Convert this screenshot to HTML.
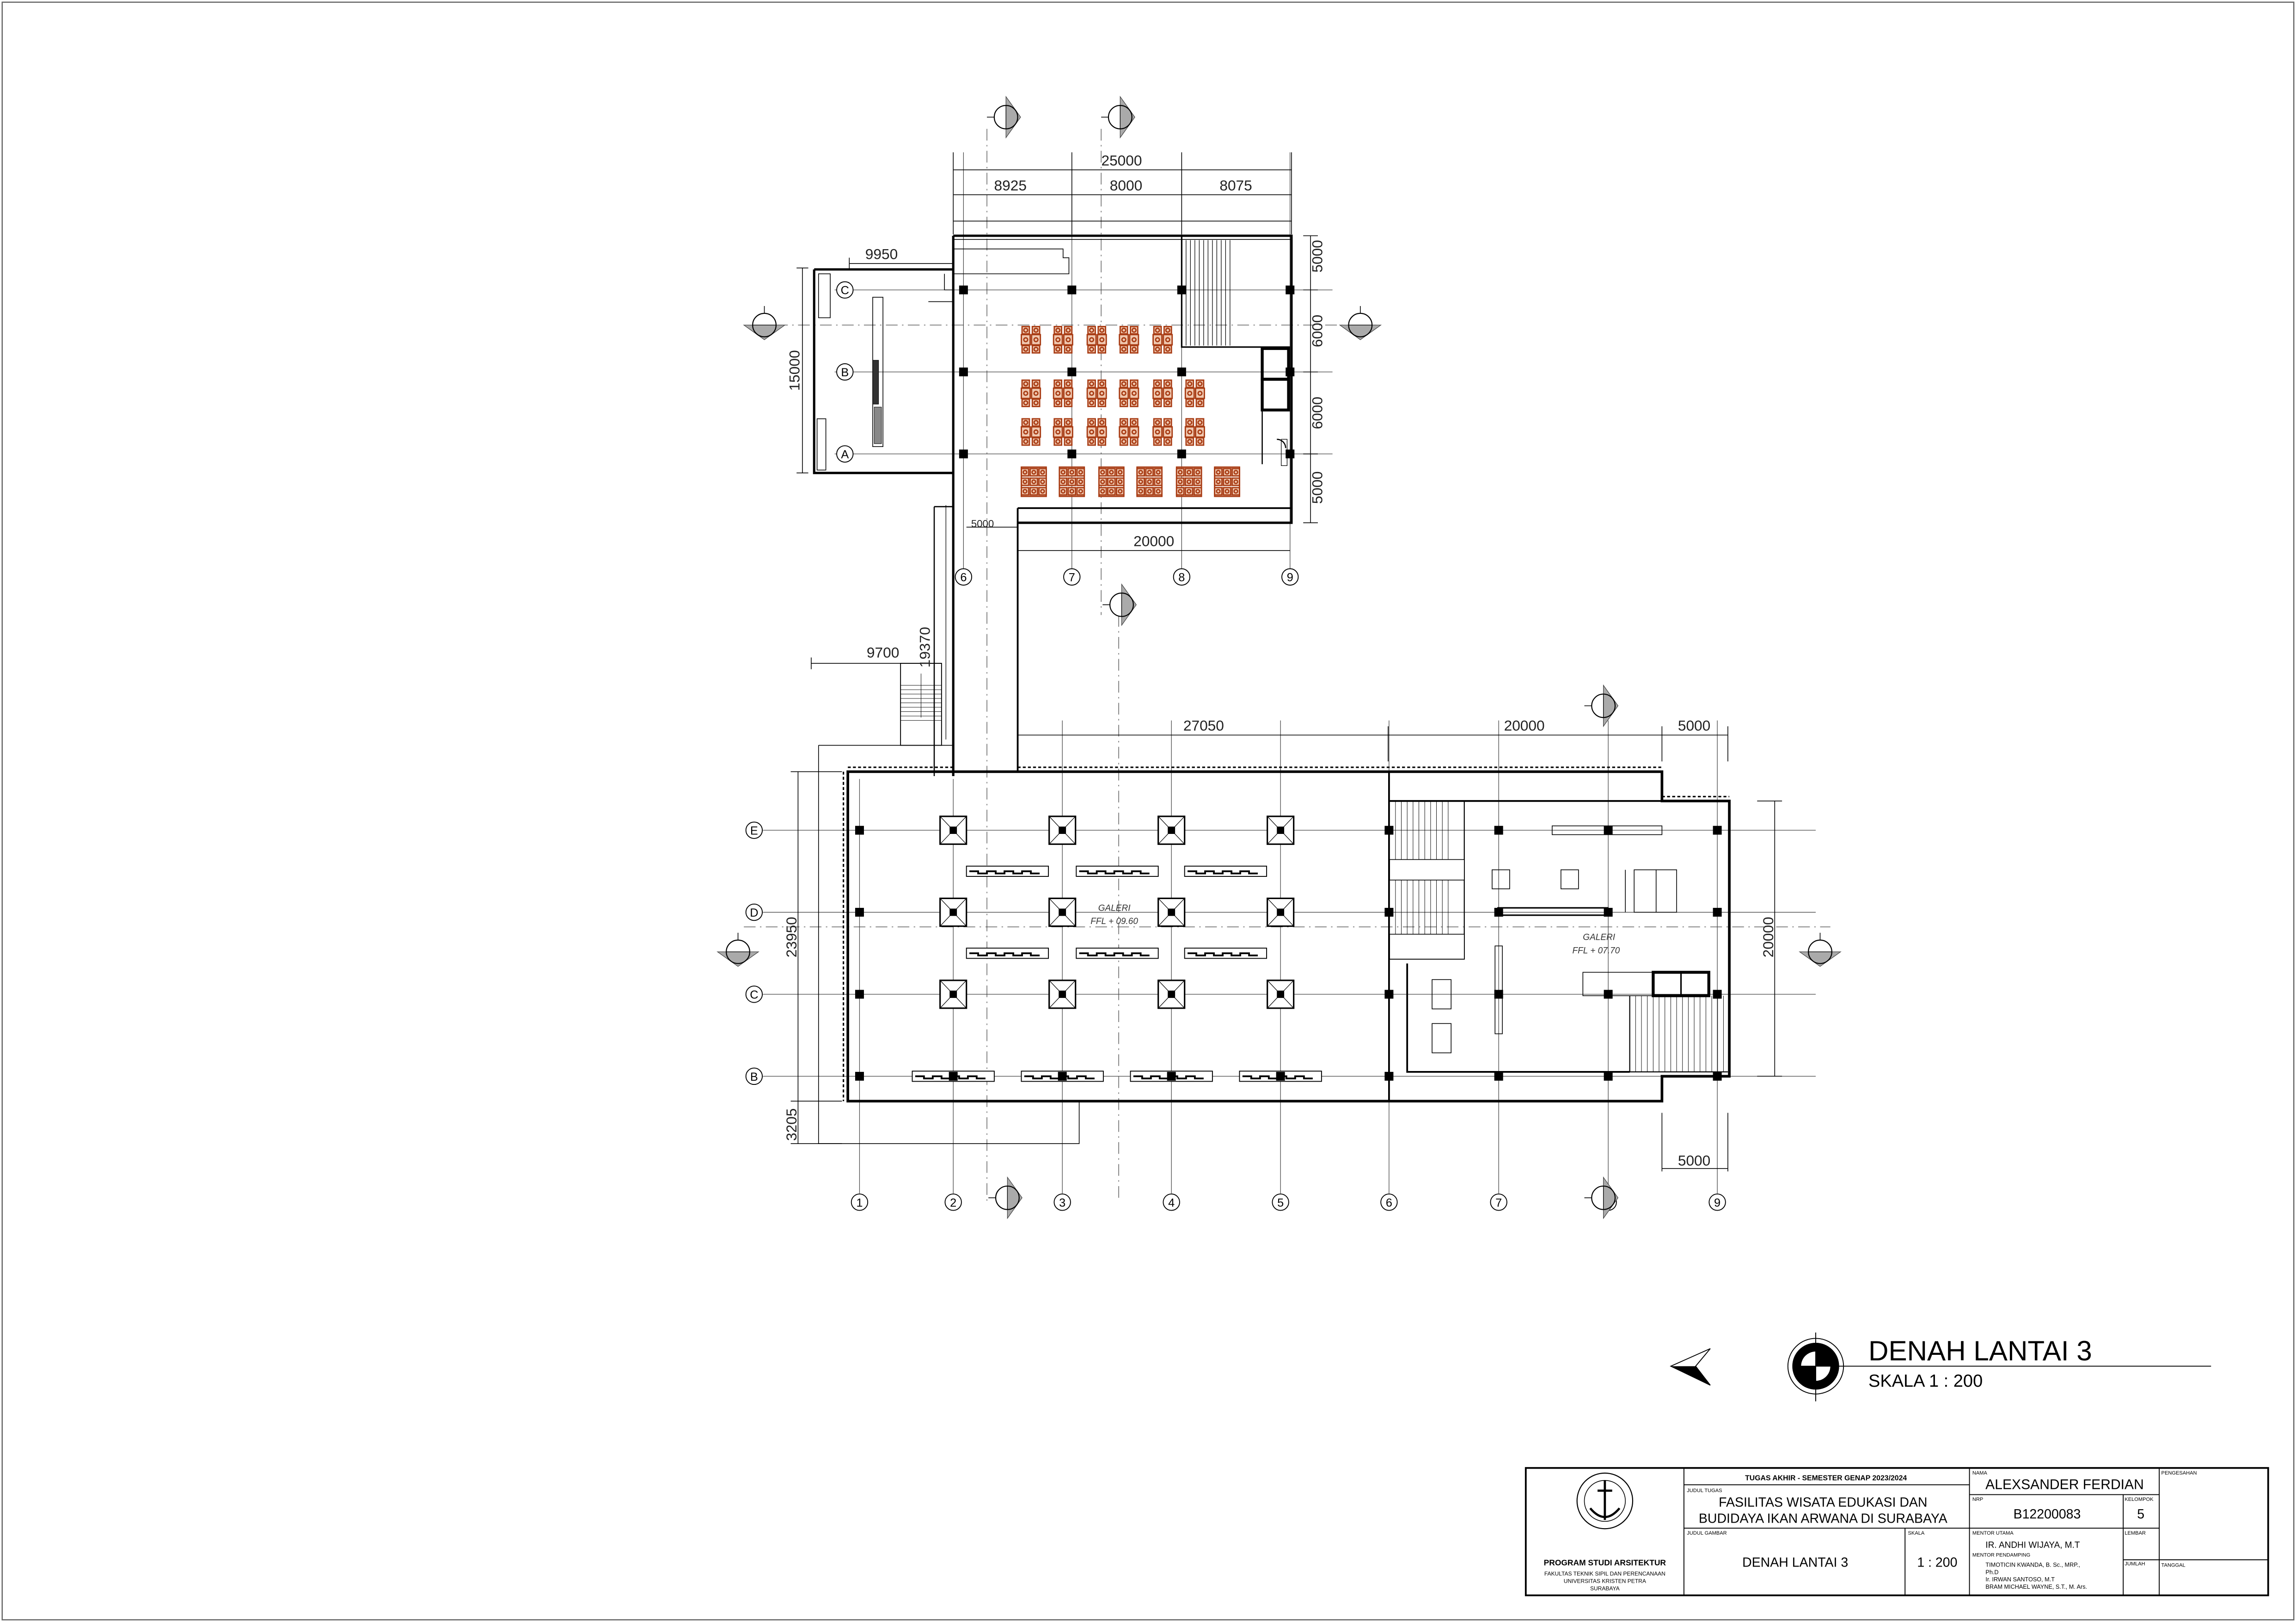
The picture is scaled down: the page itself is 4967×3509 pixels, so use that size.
<!DOCTYPE html>
<html><head><meta charset="utf-8"><style>
html,body{margin:0;padding:0;background:#fff}
svg{display:block}
text{font-family:"Liberation Sans",sans-serif}
</style></head><body>
<svg width="4967" height="3509" viewBox="0 0 1568 1107.7" preserveAspectRatio="none" xmlns="http://www.w3.org/2000/svg">
<defs>
<g id="tb"><g fill="#f0c8b0" stroke="#a83c14" stroke-width="0.9">
<rect x="-6" y="-9" width="5" height="5"/><rect x="1" y="-9" width="5" height="5"/>
<rect x="-6.5" y="-3.5" width="6" height="7"/><rect x="0.5" y="-3.5" width="6" height="7"/>
<rect x="-6" y="4" width="5" height="5"/><rect x="1" y="4" width="5" height="5"/>
<circle cx="-3.5" cy="-6.5" r="1.3"/><circle cx="3.5" cy="-6.5" r="1.3"/><circle cx="-3.5" cy="0" r="1.3"/><circle cx="3.5" cy="0" r="1.3"/><circle cx="-3.5" cy="6.5" r="1.3"/><circle cx="3.5" cy="6.5" r="1.3"/></g></g>
<g id="tc"><g fill="#f0c8b0" stroke="#a83c14" stroke-width="0.9">
<rect x="-8.5" y="-10" width="17" height="20" fill="none"/>
<rect x="-8.5" y="-9" width="5" height="5"/><rect x="-2.5" y="-9" width="5" height="5"/><rect x="3.5" y="-9" width="5" height="5"/>
<rect x="-8.5" y="-2.5" width="5" height="5"/><rect x="-2.5" y="-2.5" width="5" height="5"/><rect x="3.5" y="-2.5" width="5" height="5"/>
<rect x="-8.5" y="4" width="5" height="5"/><rect x="-2.5" y="4" width="5" height="5"/><rect x="3.5" y="4" width="5" height="5"/>
<circle cx="-6" cy="-6.5" r="1.2"/><circle cx="0" cy="-6.5" r="1.2"/><circle cx="6" cy="-6.5" r="1.2"/><circle cx="-6" cy="0" r="1.2"/><circle cx="0" cy="0" r="1.2"/><circle cx="6" cy="0" r="1.2"/><circle cx="-6" cy="6.5" r="1.2"/><circle cx="0" cy="6.5" r="1.2"/><circle cx="6" cy="6.5" r="1.2"/></g></g>
<g id="px"><rect x="-9" y="-9.5" width="18" height="19" fill="#fff" stroke="#000" stroke-width="1"/><path d="M-9-9.5L9 9.5M9-9.5L-9 9.5" stroke="#000" stroke-width="0.4"/><rect x="-2.5" y="-2.5" width="5" height="5" fill="#000"/></g>
<g id="bn"><rect x="-28" y="-3.5" width="56" height="7" fill="#fff" stroke="#000" stroke-width="0.6"/><path d="M-26 0h6v1.5h6v-1.5h6v1.5h6v-1.5h6v1.5h6v-1.5h6v1.5h6" fill="none" stroke="#000" stroke-width="1.2"/></g>
<g id="sm"><circle r="8" fill="#fff"/><polygon points="0,-14 10,0 0,14" fill="#aaa" stroke="#444" stroke-width="0.4"/><circle r="8" fill="none" stroke="#000" stroke-width="0.7"/><line x1="0" y1="-8" x2="0" y2="8" stroke="#000" stroke-width="0.4"/><line x1="-13" y1="0" x2="-8" y2="0" stroke="#000" stroke-width="0.5"/></g>
<g id="sd"><circle r="8" fill="#fff"/><polygon points="-14,0 0,10 14,0" fill="#aaa" stroke="#444" stroke-width="0.4"/><circle r="8" fill="none" stroke="#000" stroke-width="0.7"/><line x1="-8" y1="0" x2="8" y2="0" stroke="#000" stroke-width="0.4"/><line x1="0" y1="-13" x2="0" y2="-8" stroke="#000" stroke-width="0.5"/></g>
<rect id="cl" x="-3" y="-3" width="6" height="6" fill="#000"/>
</defs>

<rect x="1.5" y="1.5" width="1565" height="1104.7" fill="none" stroke="#666" stroke-width="0.8"/>

<g stroke="#444" stroke-width="0.4" fill="none">
<path d="M674 88V820M752 88V420M764 420V820" stroke-dasharray="8 3 1 3"/>
<path d="M530 222H940M508 633H1250" stroke-dasharray="8 3 1 3"/>
<path d="M570 198H910M570 254H910M570 310H910"/>
<path d="M658 104V389M732 104V389M807 104V389M881 104V389"/>
<path d="M521 567H1240M521 623H1240M521 679H1240M521 735H1240"/>
<path d="M587 532V815M651 532V815M725.5 492V815M800 492V815M874.5 492V815M948.6 492V815M1023.5 492V815M1098.3 492V815M1172.8 492V815"/>
</g>

<g stroke="#000" stroke-width="0.5" fill="none">
<path d="M651 116H882M651 133H882M651 104V160M732 104V160M807 104V160M882 104V160"/>
<path d="M651 151H882"/>
<path d="M895 161V357M890 161H900M890 198H900M890 254H900M890 310H900M890 357H900"/>
<path d="M556 183V323M552 183H560M552 323H560" transform="translate(-8 0)"/>
<path d="M580 180H651M580 176V184"/>
<path d="M695 376H881M660 360H695"/>
</g>
<g font-size="10" fill="#222" text-anchor="middle">
<text x="766" y="113">25000</text>
<text x="690" y="130">8925</text>
<text x="769" y="130">8000</text>
<text x="844" y="130">8075</text>
<text x="602" y="177">9950</text>
<text x="788" y="373">20000</text>
<text x="671" y="360" font-size="7">5000</text>
<text transform="translate(903 175) rotate(-90)">5000</text>
<text transform="translate(903 226) rotate(-90)">6000</text>
<text transform="translate(903 282) rotate(-90)">6000</text>
<text transform="translate(903 333) rotate(-90)">5000</text>
<text transform="translate(546 253) rotate(-90)">15000</text>
</g>

<g stroke="#000" fill="none">
<path d="M651 161H882V357H695M651 161V530" stroke-width="1.6"/>
<path d="M651 163.5H882" stroke-width="0.5"/>
<path d="M556 184H651M556 184V323H651" stroke-width="1.6"/>
<path d="M695 347H882M695 347V527" stroke-width="1.2"/>
<path d="M638 346V530M638 346H651" stroke-width="0.8"/>
<path d="M651 170H726V176H730V187H651" stroke-width="0.5"/>
<path d="M645 187V198H651M634 206H651V318" stroke-width="0.5"/>
<rect x="559" y="187" width="8" height="30" stroke-width="0.5"/>
<rect x="558" y="286" width="6" height="35" stroke-width="0.5"/>
<rect x="596" y="203" width="7" height="102" stroke-width="0.5"/>
<rect x="596" y="246" width="4" height="30" fill="#333" stroke-width="0.3"/>
<rect x="597" y="278" width="5" height="25" fill="#888" stroke-width="0.3"/>
<path d="M807 161V237H881" stroke-width="1"/>
<path d="M810 164V236M813 164V236M816 164V236M819 164V236M822 164V236M825 164V236M828 164V236M831 164V236M834 164V236M837 164V236M840 164V236" stroke-width="0.4"/>
<rect x="862" y="238" width="18" height="21" stroke-width="2"/>
<rect x="862" y="259" width="18" height="21" stroke-width="2"/>
<path d="M862 280V317M872 300a6 6 0 0 1 6 6" stroke-width="0.8"/>
<rect x="875" y="300" width="4" height="18" stroke-width="0.4"/>
</g>
<g>
<use href="#cl" x="658" y="198"/><use href="#cl" x="732" y="198"/><use href="#cl" x="807" y="198"/><use href="#cl" x="881" y="198"/>
<use href="#cl" x="658" y="254"/><use href="#cl" x="732" y="254"/><use href="#cl" x="807" y="254"/><use href="#cl" x="881" y="254"/>
<use href="#cl" x="658" y="310"/><use href="#cl" x="732" y="310"/><use href="#cl" x="807" y="310"/><use href="#cl" x="881" y="310"/>
</g>
<g>
<use href="#tb" x="704" y="232"/><use href="#tb" x="726" y="232"/><use href="#tb" x="749" y="232"/><use href="#tb" x="771" y="232"/><use href="#tb" x="794" y="232"/>
<use href="#tb" x="704" y="268.6"/><use href="#tb" x="726" y="268.6"/><use href="#tb" x="749" y="268.6"/><use href="#tb" x="771" y="268.6"/><use href="#tb" x="794" y="268.6"/><use href="#tb" x="816" y="268.6"/>
<use href="#tb" x="704" y="295"/><use href="#tb" x="726" y="295"/><use href="#tb" x="749" y="295"/><use href="#tb" x="771" y="295"/><use href="#tb" x="794" y="295"/><use href="#tb" x="816" y="295"/>
<use href="#tc" x="706" y="329"/><use href="#tc" x="732" y="329"/><use href="#tc" x="759" y="329"/><use href="#tc" x="785" y="329"/><use href="#tc" x="812" y="329"/><use href="#tc" x="838" y="329"/>
</g>
<g fill="#fff" stroke="#000" stroke-width="0.6">
<circle cx="577" cy="198" r="5.6"/><circle cx="577" cy="254" r="5.6"/><circle cx="577" cy="310" r="5.6"/>
<circle cx="658" cy="394" r="5.6"/><circle cx="732" cy="394" r="5.6"/><circle cx="807" cy="394" r="5.6"/><circle cx="881" cy="394" r="5.6"/>
</g>
<g font-size="8" text-anchor="middle" fill="#000">
<text x="577" y="201">C</text><text x="577" y="257">B</text><text x="577" y="313">A</text>
<text x="658" y="397">6</text><text x="732" y="397">7</text><text x="807" y="397">8</text><text x="881" y="397">9</text>
</g>

<g stroke="#000" fill="none" stroke-width="0.6">
<rect x="615" y="453" width="28" height="56"/>
<path d="M615 468H643M615 471H643M615 474H643M615 477H643M615 480H643M615 483H643M615 486H643M615 489H643M615 492H643M629 460V490" stroke-width="0.3"/>
<path d="M559 509H651M559 509V781H737V752" stroke-width="0.5"/>
<path d="M554 453H643M554 449V457" stroke-width="0.5"/>
<path d="M646 345V505" stroke-width="0.4"/>
<path d="M545 527V781M540 527H575M540 752H575M540 781H575" stroke-width="0.5"/>
<path d="M695 502H1180M695 496V510M948 496V520M1135 496V520M1180 496V520" stroke-width="0.5"/>
<path d="M1212 547V735M1200 547H1217M1200 735H1217" stroke-width="0.5"/>
<path d="M1135 798H1180M1135 760V800M1180 760V800" stroke-width="0.5"/>
</g>
<g font-size="10" fill="#222" text-anchor="middle">
<text x="603" y="449">9700</text>
<text transform="translate(635 442) rotate(-90)">19370</text>
<text transform="translate(544 640) rotate(-90)">23950</text>
<text transform="translate(544 768) rotate(-90)">3205</text>
<text x="822" y="499">27050</text>
<text x="1041" y="499">20000</text>
<text x="1157" y="499">5000</text>
<text x="1157" y="796">5000</text>
<text transform="translate(1211 640) rotate(-90)">20000</text>
</g>

<g stroke="#000" fill="none">
<path d="M579 527H1135V547H1181V735H1135V752H579Z" stroke-width="1.8"/>
<path d="M579 524H651M695 524H1135M1135 544H1181M576 527V752" stroke-width="1" stroke-dasharray="2 1.5"/>
<path d="M948.6 527V752M948.6 547H1135" stroke-width="1.2"/>
<path d="M948.6 547H1000V655H948.6" stroke-width="0.7"/>
<path d="M953 547V655M957 547V655M961 547V655M965 547V655M969 547V655M973 547V655M977 547V655M981 547V655M985 547V655M989 547V655" stroke-width="0.3"/>
<rect x="949" y="587" width="51" height="14" fill="#fff" stroke-width="0.5"/>
<rect x="949" y="638" width="51" height="17" fill="#fff" stroke-width="0.5"/>
<path d="M961 658V732H1113" stroke-width="1.2"/>
<path d="M1113 680V732H1180" stroke-width="0.7"/>
<path d="M1117 680V732M1121 680V732M1125 680V732M1129 680V732M1133 680V732M1137 680V732M1141 680V732M1145 680V732M1149 680V732M1153 680V732M1157 680V732M1161 680V732M1165 680V732M1169 680V732M1173 680V732M1177 680V732" stroke-width="0.3"/>
<rect x="1129" y="664" width="38" height="16" stroke-width="2"/>
<path d="M1148 664V680" stroke-width="1"/>
<rect x="1081" y="664" width="48" height="16" stroke-width="0.5"/>
<rect x="1019" y="594" width="12" height="13" stroke-width="0.5"/>
<rect x="1066" y="594" width="12" height="13" stroke-width="0.5"/>
<rect x="1116" y="594" width="29" height="29" stroke-width="0.5"/>
<path d="M1131 594V623M1110 594V623" stroke-width="0.5"/>
<rect x="1060" y="564" width="75" height="6" stroke-width="0.5"/>
<rect x="1023" y="620" width="75" height="5" stroke-width="1"/>
<rect x="978" y="669" width="13" height="20" stroke-width="0.5"/>
<rect x="978" y="699" width="13" height="20" stroke-width="0.5"/>
<rect x="1021" y="646" width="5" height="60" stroke-width="0.5"/>
</g>
<g font-size="6" fill="#333" text-anchor="middle" font-style="italic">
<text x="761" y="622">GALERI</text><text x="761" y="631">FFL + 09.60</text>
<text x="1092" y="642">GALERI</text><text x="1090" y="651">FFL + 07.70</text>
</g>
<g>
<use href="#px" x="651" y="567"/><use href="#px" x="725.5" y="567"/><use href="#px" x="800" y="567"/><use href="#px" x="874.5" y="567"/>
<use href="#px" x="651" y="623"/><use href="#px" x="725.5" y="623"/><use href="#px" x="800" y="623"/><use href="#px" x="874.5" y="623"/>
<use href="#px" x="651" y="679"/><use href="#px" x="725.5" y="679"/><use href="#px" x="800" y="679"/><use href="#px" x="874.5" y="679"/>
<use href="#bn" x="688" y="595"/><use href="#bn" x="763" y="595"/><use href="#bn" x="837" y="595"/>
<use href="#bn" x="688" y="651"/><use href="#bn" x="763" y="651"/><use href="#bn" x="837" y="651"/>
<use href="#bn" x="651" y="735"/><use href="#bn" x="725.5" y="735"/><use href="#bn" x="800" y="735"/><use href="#bn" x="874.5" y="735"/>
<use href="#cl" x="587" y="567"/><use href="#cl" x="587" y="623"/><use href="#cl" x="587" y="679"/><use href="#cl" x="587" y="735"/>
<use href="#cl" x="948.6" y="567"/><use href="#cl" x="948.6" y="623"/><use href="#cl" x="948.6" y="679"/><use href="#cl" x="948.6" y="735"/>
<use href="#cl" x="1023.5" y="567"/><use href="#cl" x="1023.5" y="623"/><use href="#cl" x="1023.5" y="679"/><use href="#cl" x="1023.5" y="735"/>
<use href="#cl" x="1098.3" y="567"/><use href="#cl" x="1098.3" y="623"/><use href="#cl" x="1098.3" y="679"/><use href="#cl" x="1098.3" y="735"/>
<use href="#cl" x="1172.8" y="567"/><use href="#cl" x="1172.8" y="623"/><use href="#cl" x="1172.8" y="679"/><use href="#cl" x="1172.8" y="735"/>
<use href="#cl" x="651" y="735"/><use href="#cl" x="725.5" y="735"/><use href="#cl" x="800" y="735"/><use href="#cl" x="874.5" y="735"/>
</g>
<g fill="#fff" stroke="#000" stroke-width="0.6">
<circle cx="515" cy="567" r="5.6"/><circle cx="515" cy="623" r="5.6"/><circle cx="515" cy="679" r="5.6"/><circle cx="515" cy="735" r="5.6"/>
<circle cx="587" cy="821" r="5.6"/><circle cx="651" cy="821" r="5.6"/><circle cx="725.5" cy="821" r="5.6"/><circle cx="800" cy="821" r="5.6"/><circle cx="874.5" cy="821" r="5.6"/><circle cx="948.6" cy="821" r="5.6"/><circle cx="1023.5" cy="821" r="5.6"/><circle cx="1098.3" cy="821" r="5.6"/><circle cx="1172.8" cy="821" r="5.6"/>
</g>
<g font-size="8" text-anchor="middle" fill="#000">
<text x="515" y="570">E</text><text x="515" y="626">D</text><text x="515" y="682">C</text><text x="515" y="738">B</text>
<text x="587" y="824">1</text><text x="651" y="824">2</text><text x="725.5" y="824">3</text><text x="800" y="824">4</text><text x="874.5" y="824">5</text><text x="948.6" y="824">6</text><text x="1023.5" y="824">7</text><text x="1098.3" y="824">8</text><text x="1172.8" y="824">9</text>
</g>

<use href="#sm" x="687" y="80"/><use href="#sm" x="765" y="80"/>
<use href="#sd" x="522" y="222"/><use href="#sd" x="929" y="222"/>
<use href="#sm" x="766" y="413"/>
<use href="#sm" x="1095" y="482"/>
<use href="#sd" x="504" y="650"/><use href="#sd" x="1243" y="650"/>
<use href="#sm" x="688" y="818"/><use href="#sm" x="1095" y="818"/>

<polygon points="1141,933 1168,921 1158,933 1168,946" fill="#fff" stroke="#000" stroke-width="0.6"/>
<polygon points="1141,933 1158,933 1168,946" fill="#000"/>
<g>
<circle cx="1240" cy="933" r="19" fill="#fff" stroke="#000" stroke-width="0.6"/>
<path d="M1240 917A16 16 0 0 1 1256 933H1240ZM1240 949A16 16 0 0 1 1224 933H1240Z" fill="#000"/>
<path d="M1240 917A16 16 0 0 0 1224 933H1230A10 10 0 0 1 1240 923ZM1240 949A16 16 0 0 0 1256 933H1250A10 10 0 0 1 1240 943Z" fill="#000"/>
<path d="M1240 910V957M1225 933H1510" stroke="#000" stroke-width="0.6"/>
</g>
<text x="1276" y="929" font-size="19" fill="#000">DENAH LANTAI 3</text>
<text x="1276" y="947" font-size="12" fill="#000">SKALA 1 : 200</text>

<g stroke="#000" fill="none">
<rect x="1042" y="1002.5" width="507" height="87" stroke-width="1.2"/>
<path d="M1150 1002.5V1089.5M1345 1002.5V1089.5M1450 1020.7V1089.5M1474.6 1002.5V1089.5M1301 1043.6V1089.5" stroke-width="0.6"/>
<path d="M1150 1014H1345M1150 1043.6H1345M1345 1020.7H1474.6M1345 1043.6H1474.6M1450 1065.2H1549" stroke-width="0.6"/>
<circle cx="1096" cy="1025" r="19" stroke-width="0.7"/><circle cx="1096" cy="1025" r="14" stroke-width="0.5"/>
<path d="M1096 1011V1038M1091 1018H1101M1086 1030Q1096 1042 1106 1030" stroke-width="1.5"/>
</g>
<g fill="#000">
<text x="1247" y="1011" font-size="5" font-weight="bold" text-anchor="middle">TUGAS AKHIR - SEMESTER GENAP 2023/2024</text>
<text x="1152" y="1019" font-size="3.5">JUDUL TUGAS</text>
<text x="1245" y="1029" font-size="9" text-anchor="middle">FASILITAS WISATA EDUKASI DAN</text>
<text x="1245" y="1040" font-size="9" text-anchor="middle">BUDIDAYA IKAN ARWANA DI SURABAYA</text>
<text x="1152" y="1048" font-size="3.5">JUDUL GAMBAR</text>
<text x="1303" y="1048" font-size="3.5">SKALA</text>
<text x="1226" y="1070" font-size="9" text-anchor="middle">DENAH LANTAI 3</text>
<text x="1323" y="1070" font-size="9" text-anchor="middle">1 : 200</text>
<text x="1347" y="1007" font-size="3.5">NAMA</text>
<text x="1410" y="1017" font-size="9.5" text-anchor="middle">ALEXSANDER FERDIAN</text>
<text x="1347" y="1025" font-size="3.5">NRP</text>
<text x="1398" y="1037" font-size="9" text-anchor="middle">B12200083</text>
<text x="1451" y="1025" font-size="3.5">KELOMPOK</text>
<text x="1462" y="1037" font-size="9" text-anchor="middle">5</text>
<text x="1347" y="1048" font-size="3.5">MENTOR UTAMA</text>
<text x="1356" y="1057" font-size="6">IR.    ANDHI WIJAYA, M.T</text>
<text x="1347" y="1063" font-size="3.5">MENTOR PENDAMPING</text>
<text x="1356" y="1070" font-size="4">TIMOTICIN KWANDA, B. Sc., MRP.,</text>
<text x="1356" y="1075" font-size="4">Ph.D</text>
<text x="1356" y="1080" font-size="4">Ir. IRWAN SANTOSO, M.T</text>
<text x="1356" y="1085" font-size="4">BRAM MICHAEL WAYNE, S.T., M. Ars.</text>
<text x="1451" y="1048" font-size="3.5">LEMBAR</text>
<text x="1451" y="1069" font-size="3.5">JUMLAH</text>
<text x="1476" y="1007" font-size="3.5">PENGESAHAN</text>
<text x="1476" y="1070" font-size="3.5">TANGGAL</text>
<text x="1096" y="1069" font-size="5.5" font-weight="bold" text-anchor="middle">PROGRAM STUDI ARSITEKTUR</text>
<text x="1096" y="1076" font-size="3.8" text-anchor="middle">FAKULTAS TEKNIK SIPIL DAN PERENCANAAN</text>
<text x="1096" y="1081" font-size="3.8" text-anchor="middle">UNIVERSITAS KRISTEN PETRA</text>
<text x="1096" y="1086" font-size="3.8" text-anchor="middle">SURABAYA</text>
</g>
</svg>
</body></html>
